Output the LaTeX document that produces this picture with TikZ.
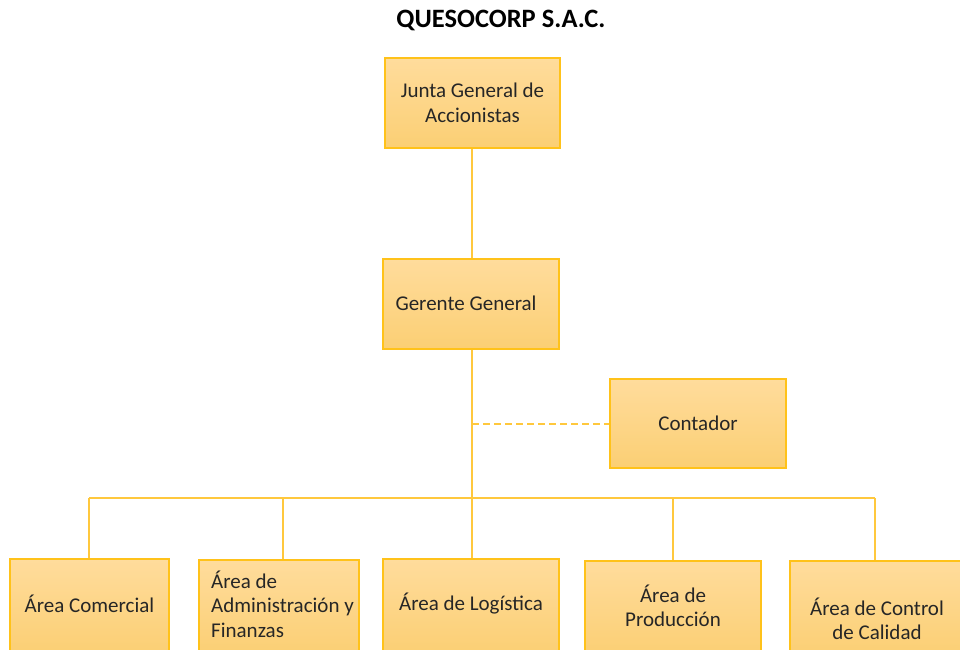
\documentclass[tikz,border=0pt]{standalone}
\usepackage{fontspec}
\setmainfont{Carlito}
\usetikzlibrary{calc}
\definecolor{boxborder}{HTML}{FFC21A}
\definecolor{linecol}{HTML}{FFC83D}
\definecolor{filltop}{HTML}{FFDC9C}
\definecolor{fillbot}{HTML}{FBCF74}
\definecolor{txtcol}{HTML}{262626}
\tikzset{
  orgbox/.style={draw=boxborder, line width=1.8pt, top color=filltop, bottom color=fillbot,
     minimum width=#1, minimum height=90pt, inner sep=0pt, font=\fontsize{21}{24.5}\selectfont, text=txtcol, align=center},
  orgbox/.default=176pt,
  lowbox/.style={orgbox=#1, minimum height=94pt},
  lowbox/.default=176pt,
  txt/.style={font=\fontsize{21}{24.5}\selectfont, text=txtcol, inner sep=0pt},
  conn/.style={draw=linecol, line width=1.6pt},
  dashconn/.style={draw=linecol, line width=2pt, dash pattern=on 7pt off 4pt}
}
\begin{document}
\begin{tikzpicture}[x=1pt,y=-1pt]
\useasboundingbox (0,0) rectangle (960,649);
\clip (0,0) rectangle (960,649);
\node[font=\fontsize{26.5}{30}\selectfont\bfseries, text=black, inner sep=0pt] (title) at (501,20) {QUESOCORP S.A.C.};
\node[orgbox=175pt] (junta) at (472.5,103) {Junta General de\\Accionistas};
\node[orgbox] (gerente) at (471,304) {};
\node[txt] (gerentetxt) at (466,303) {Gerente General};
\node[orgbox, minimum height=89pt] (contador) at (698,423.5) {Contador};
\node[lowbox=159pt] (comercial) at (89.5,606) {};
\node[txt] (comercialtxt) at (89.5,604) {Área Comercial};
\node[lowbox=160pt] (admin) at (279,607) {};
\node[txt, anchor=west, align=left] (admintxt) at (211,604) {Área de\\Administración y\\Finanzas};
\node[lowbox] (logistica) at (471,606) {};
\node[txt] (logisticatxt) at (471,604) {Área de Logística};
\node[lowbox] (produccion) at (673,608) {};
\node[txt, align=center] (producciontxt) at (673,606) {Área de\\Producción};
\node[lowbox] (control) at (878,608) {};
\node[txt, align=center] (controltxt) at (877,619) {Área de Control\\de Calidad};
% connectors
\coordinate (busL) at (89,498);
\coordinate (busA) at (283,498);
\coordinate (busC) at (472,498);
\coordinate (busP) at (673,498);
\coordinate (busR) at (875,498);
\coordinate (dashL) at (472,424);
\draw[conn] (junta.south -| busC) -- (gerente.north -| busC);
\draw[conn] (gerente.south -| busC) -- (logistica.north -| busC);
\draw[conn] (busL) -- (busR);
\draw[conn] (busL) -- (comercial.north -| busL);
\draw[conn] (busA) -- (admin.north -| busA);
\draw[conn] (busP) -- (produccion.north -| busP);
\draw[conn] (busR) -- (control.north -| busR);
\draw[dashconn] (dashL) -- (dashL -| contador.west);
\end{tikzpicture}
\end{document}
